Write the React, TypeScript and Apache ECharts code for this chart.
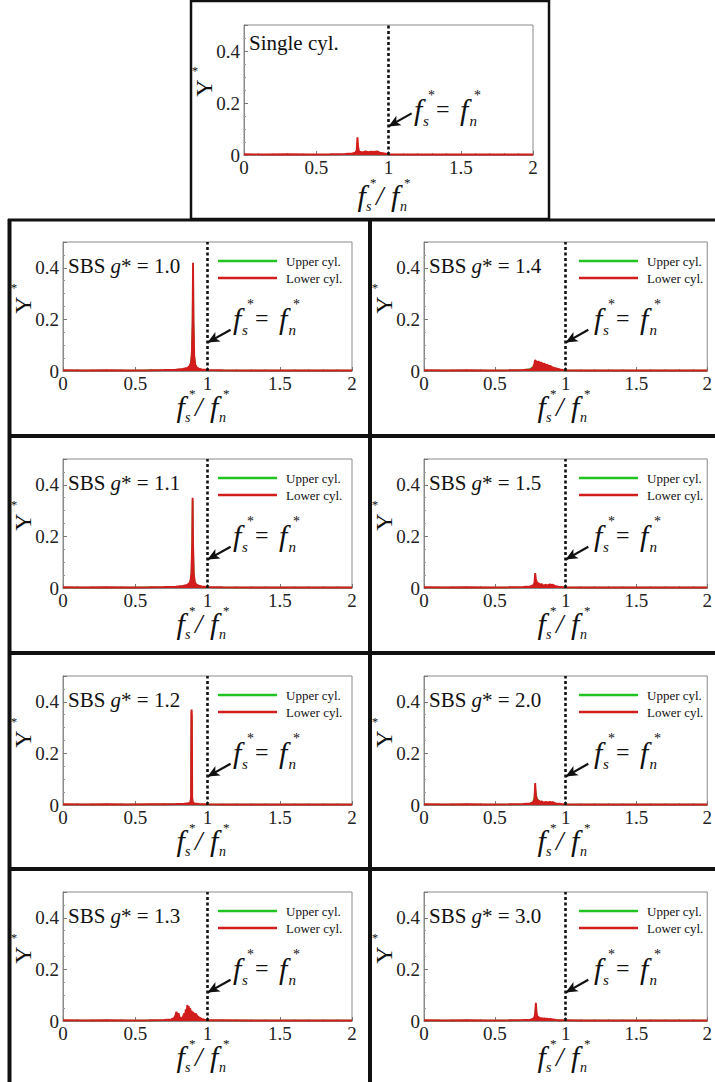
import React, { useEffect, useRef } from "react";
import * as echarts from "echarts";

// ---------------- data ----------------
const singleFreq = [0, 0.15, 0.3, 0.45, 0.6, 0.7, 0.75, 0.77, 0.78, 0.785, 0.79, 0.795, 0.8, 0.82, 0.84, 0.86, 0.88, 0.9, 0.92, 0.94, 0.96, 0.98, 1.0, 1.1, 1.3, 1.5, 1.7, 2.0];
const singleAmp = [0.003, 0.002, 0.003, 0.002, 0.003, 0.004, 0.006, 0.009, 0.018, 0.068, 0.03, 0.016, 0.013, 0.01, 0.014, 0.011, 0.013, 0.012, 0.014, 0.009, 0.007, 0.005, 0.003, 0.002, 0.002, 0.002, 0.002, 0.002];

const g10Freq = [0, 0.15, 0.3, 0.45, 0.6, 0.7, 0.78, 0.83, 0.86, 0.875, 0.885, 0.892, 0.897, 0.9, 0.903, 0.908, 0.915, 0.925, 0.94, 0.96, 1.0, 1.1, 1.3, 1.5, 1.7, 2.0];
const g10Lower = [0.003, 0.002, 0.003, 0.002, 0.003, 0.004, 0.005, 0.008, 0.012, 0.018, 0.03, 0.07, 0.2, 0.42, 0.2, 0.06, 0.025, 0.014, 0.009, 0.006, 0.004, 0.003, 0.002, 0.002, 0.002, 0.002];
const g10Upper = [0.002, 0.002, 0.002, 0.002, 0.003, 0.003, 0.004, 0.007, 0.011, 0.016, 0.028, 0.065, 0.19, 0.41, 0.19, 0.055, 0.022, 0.012, 0.008, 0.005, 0.003, 0.002, 0.002, 0.002, 0.002, 0.002];

const g11Freq = [0, 0.15, 0.3, 0.45, 0.6, 0.7, 0.78, 0.83, 0.86, 0.873, 0.882, 0.889, 0.894, 0.897, 0.9, 0.905, 0.912, 0.922, 0.94, 0.96, 1.0, 1.1, 1.3, 1.5, 1.7, 2.0];
const g11Lower = [0.003, 0.002, 0.003, 0.002, 0.003, 0.004, 0.005, 0.008, 0.012, 0.017, 0.028, 0.06, 0.17, 0.35, 0.17, 0.055, 0.024, 0.013, 0.009, 0.006, 0.004, 0.003, 0.002, 0.002, 0.002, 0.002];
const g11Upper = [0.002, 0.002, 0.002, 0.002, 0.003, 0.003, 0.004, 0.007, 0.011, 0.016, 0.026, 0.056, 0.16, 0.34, 0.16, 0.05, 0.022, 0.012, 0.008, 0.005, 0.003, 0.002, 0.002, 0.002, 0.002, 0.002];

const g12Freq = [0, 0.15, 0.3, 0.45, 0.6, 0.7, 0.78, 0.84, 0.87, 0.882, 0.886, 0.888, 0.89, 0.892, 0.894, 0.898, 0.91, 0.94, 1.0, 1.1, 1.3, 1.5, 1.7, 2.0];
const g12Lower = [0.003, 0.002, 0.003, 0.002, 0.003, 0.003, 0.004, 0.005, 0.007, 0.01, 0.03, 0.36, 0.37, 0.35, 0.03, 0.01, 0.006, 0.004, 0.003, 0.002, 0.002, 0.002, 0.002, 0.002];
const g12Upper = [0.002, 0.002, 0.002, 0.002, 0.002, 0.003, 0.003, 0.004, 0.006, 0.009, 0.025, 0.2, 0.34, 0.2, 0.025, 0.009, 0.005, 0.003, 0.002, 0.002, 0.002, 0.002, 0.002, 0.002];

const g13Freq = [0, 0.15, 0.3, 0.45, 0.6, 0.7, 0.75, 0.77, 0.78, 0.785, 0.79, 0.795, 0.8, 0.805, 0.81, 0.82, 0.83, 0.84, 0.845, 0.85, 0.855, 0.86, 0.865, 0.87, 0.875, 0.88, 0.885, 0.89, 0.895, 0.9, 0.91, 0.92, 0.93, 0.94, 0.96, 0.98, 1.0, 1.1, 1.3, 1.5, 1.7, 2.0];
const g13Lower = [0.003, 0.002, 0.003, 0.002, 0.003, 0.004, 0.006, 0.012, 0.025, 0.036, 0.028, 0.02, 0.03, 0.018, 0.012, 0.01, 0.016, 0.03, 0.022, 0.045, 0.03, 0.062, 0.045, 0.058, 0.035, 0.05, 0.03, 0.04, 0.028, 0.034, 0.025, 0.028, 0.018, 0.014, 0.008, 0.005, 0.003, 0.003, 0.002, 0.002, 0.002, 0.002];
const g13Upper = [0.002, 0.002, 0.002, 0.002, 0.002, 0.003, 0.004, 0.008, 0.015, 0.02, 0.016, 0.012, 0.018, 0.011, 0.008, 0.007, 0.01, 0.018, 0.013, 0.026, 0.018, 0.035, 0.026, 0.033, 0.02, 0.028, 0.018, 0.023, 0.016, 0.02, 0.015, 0.016, 0.011, 0.008, 0.005, 0.003, 0.002, 0.002, 0.002, 0.002, 0.002, 0.002];

const g14Freq = [0, 0.15, 0.3, 0.45, 0.6, 0.7, 0.75, 0.77, 0.78, 0.785, 0.79, 0.8, 0.81, 0.82, 0.83, 0.84, 0.85, 0.86, 0.87, 0.88, 0.89, 0.9, 0.92, 0.94, 0.96, 0.98, 1.0, 1.1, 1.3, 1.5, 1.7, 2.0];
const g14Lower = [0.003, 0.002, 0.003, 0.002, 0.003, 0.004, 0.006, 0.012, 0.03, 0.043, 0.038, 0.035, 0.036, 0.031, 0.032, 0.027, 0.028, 0.023, 0.024, 0.019, 0.02, 0.016, 0.012, 0.009, 0.006, 0.004, 0.003, 0.002, 0.002, 0.002, 0.002, 0.002];
const g14Upper = [0.002, 0.002, 0.002, 0.002, 0.003, 0.004, 0.008, 0.016, 0.022, 0.025, 0.022, 0.02, 0.019, 0.018, 0.016, 0.015, 0.014, 0.012, 0.011, 0.01, 0.009, 0.008, 0.006, 0.005, 0.004, 0.003, 0.002, 0.002, 0.002, 0.002, 0.002, 0.002];

const gHighFreq = [0, 0.15, 0.3, 0.45, 0.6, 0.7, 0.75, 0.77, 0.78, 0.785, 0.79, 0.795, 0.8, 0.81, 0.82, 0.83, 0.84, 0.85, 0.86, 0.87, 0.88, 0.89, 0.9, 0.91, 0.92, 0.93, 0.95, 0.97, 1.0, 1.1, 1.3, 1.5, 1.7, 2.0];
const g15Lower = [0.003, 0.002, 0.003, 0.002, 0.003, 0.004, 0.006, 0.01, 0.02, 0.058, 0.035, 0.025, 0.02, 0.018, 0.013, 0.015, 0.011, 0.01, 0.013, 0.009, 0.012, 0.014, 0.011, 0.013, 0.009, 0.007, 0.005, 0.004, 0.003, 0.002, 0.002, 0.002, 0.002, 0.002];
const g15Upper = [0.002, 0.002, 0.002, 0.002, 0.002, 0.003, 0.005, 0.008, 0.016, 0.03, 0.022, 0.016, 0.013, 0.011, 0.009, 0.01, 0.008, 0.007, 0.009, 0.006, 0.008, 0.009, 0.008, 0.009, 0.006, 0.005, 0.004, 0.003, 0.002, 0.002, 0.002, 0.002, 0.002, 0.002];
const g20Lower = [0.003, 0.002, 0.003, 0.002, 0.003, 0.004, 0.006, 0.01, 0.022, 0.085, 0.04, 0.026, 0.02, 0.016, 0.012, 0.014, 0.011, 0.01, 0.012, 0.009, 0.011, 0.012, 0.01, 0.011, 0.008, 0.006, 0.005, 0.004, 0.003, 0.002, 0.002, 0.002, 0.002, 0.002];
const g20Upper = [0.002, 0.002, 0.002, 0.002, 0.002, 0.003, 0.006, 0.012, 0.03, 0.06, 0.045, 0.03, 0.022, 0.017, 0.012, 0.012, 0.01, 0.009, 0.01, 0.008, 0.009, 0.01, 0.008, 0.009, 0.007, 0.005, 0.004, 0.003, 0.002, 0.002, 0.002, 0.002, 0.002, 0.002];
const g30Lower = [0.003, 0.002, 0.003, 0.002, 0.003, 0.004, 0.005, 0.008, 0.015, 0.03, 0.07, 0.03, 0.018, 0.014, 0.01, 0.011, 0.009, 0.01, 0.008, 0.009, 0.007, 0.008, 0.007, 0.006, 0.005, 0.004, 0.003, 0.003, 0.003, 0.002, 0.002, 0.002, 0.002, 0.002];
const g30Upper = [0.002, 0.002, 0.002, 0.002, 0.002, 0.003, 0.004, 0.007, 0.012, 0.025, 0.055, 0.025, 0.015, 0.011, 0.008, 0.009, 0.007, 0.008, 0.006, 0.007, 0.006, 0.006, 0.005, 0.005, 0.004, 0.003, 0.003, 0.002, 0.002, 0.002, 0.002, 0.002, 0.002, 0.002];

const gapLabels = ["1.0", "1.1", "1.2", "1.3", "1.4", "1.5", "2.0", "3.0"];
const legendNames = ["Upper cyl.", "Lower cyl."];
const singleTitle = "Single cyl.";

const X_MIN = 0, X_MAX = 2, X_STEP = 0.5;
const Y_MIN = 0, Y_MAX = 0.5, Y_STEP = 0.2;
const RESONANCE = 1; // f_s* = f_n*
const ARROW_TAIL = [1.16, 0.16];
const ARROW_HEAD = [1.0, 0.11];

// ---------------- styling ----------------
const SERIF = "Liberation Serif";
const RED = "#d21d1d";
const GREEN = "#22c422";
const INK = "#111";
const FRAME = "#8a8a8a";

const zip = (f: number[], a: number[]) => f.map((x, i) => [x, a[i]]);

type Panel = {
  gap: string | null;
  freq: number[];
  lower: number[];
  upper: number[] | null;
  L: number;
  plotTop: number;
  plotH: number;
  T: number;
  annY: number;
  xlY: number;
  yNameY: number;
};

function buildPanels(): Panel[] {
  const rowsT = [219, 436, 653, 869];
  const colsL = [63, 424];
  const sets: [number[], number[], number[]][] = [
    [g10Freq, g10Lower, g10Upper],
    [g11Freq, g11Lower, g11Upper],
    [g12Freq, g12Lower, g12Upper],
    [g13Freq, g13Lower, g13Upper],
    [g14Freq, g14Lower, g14Upper],
    [gHighFreq, g15Lower, g15Upper],
    [gHighFreq, g20Lower, g20Upper],
    [gHighFreq, g30Lower, g30Upper],
  ];
  const panels: Panel[] = [
    {
      gap: null, freq: singleFreq, lower: singleAmp, upper: null,
      L: 244, plotTop: 25, plotH: 130, T: 3, annY: 109, xlY: 195, yNameY: 88,
    },
  ];
  sets.forEach((s, i) => {
    const col = Math.floor(i / 4);
    const row = i % 4;
    const T = rowsT[row];
    panels.push({
      gap: gapLabels[i], freq: s[0], lower: s[1], upper: s[2],
      L: colsL[col], plotTop: T + 23, plotH: 129, T,
      annY: T + 99, xlY: T + 187, yNameY: T + 86,
    });
  });
  return panels;
}

function mathGroup(x: number, y: number, items: [string, number, number, number, boolean][]) {
  return {
    type: "group",
    x,
    y,
    children: items.map(([t, dx, dy, size, italic]) => ({
      type: "text",
      x: dx,
      y: dy,
      style: {
        text: t,
        fontFamily: SERIF,
        fontSize: size,
        fontStyle: italic ? "italic" : "normal",
        fill: INK,
        align: "left",
        verticalAlign: "middle",
      },
    })),
  };
}

function buildOption() {
  const panels = buildPanels();
  const grid: any[] = [];
  const xAxis: any[] = [];
  const yAxis: any[] = [];
  const series: any[] = [];
  const elements: any[] = [];
  const W = 289;

  panels.forEach((p, i) => {
    grid.push({
      left: p.L, top: p.plotTop, width: W, height: p.plotH,
      show: true, borderColor: FRAME, borderWidth: 1, backgroundColor: "transparent",
    });
    const labelStyle = { fontFamily: SERIF, fontSize: 19, color: "#222" };
    xAxis.push({
      gridIndex: i, type: "value", min: X_MIN, max: X_MAX, interval: X_STEP,
      axisLine: { show: true, onZero: false, lineStyle: { color: FRAME } },
      axisTick: { show: true, inside: true, length: 4, lineStyle: { color: "#777" } },
      minorTick: { show: true, splitNumber: 5, length: 2, lineStyle: { color: "#999" } },
      splitLine: { show: false },
      axisLabel: { ...labelStyle, margin: 3 },
    });
    yAxis.push({
      gridIndex: i, type: "value", min: Y_MIN, max: Y_MAX, interval: Y_STEP,
      axisLine: { show: true, lineStyle: { color: FRAME } },
      axisTick: { show: true, inside: true, length: 4, lineStyle: { color: "#777" } },
      minorTick: { show: true, splitNumber: 4, length: 2, lineStyle: { color: "#999" } },
      splitLine: { show: false },
      axisLabel: { ...labelStyle, margin: 4, showMaxLabel: false },
    });

    series.push({
      type: "line", name: "guide", xAxisIndex: i, yAxisIndex: i, data: [], silent: true, z: 5,
      markLine: {
        silent: true, symbol: "none", animation: false, label: { show: false },
        emphasis: { disabled: true },
        lineStyle: { color: INK, type: [3, 2.5], width: 2.6 },
        data: [{ xAxis: RESONANCE }],
      },
    });
    if (p.upper) {
      series.push({
        type: "line", name: legendNames[0], xAxisIndex: i, yAxisIndex: i,
        data: zip(p.freq, p.upper), showSymbol: false, z: 2,
        lineStyle: { color: GREEN, width: 1.6 }, itemStyle: { color: GREEN },
      });
    }
    series.push({
      type: "line", name: p.upper ? legendNames[1] : singleTitle, xAxisIndex: i, yAxisIndex: i,
      data: zip(p.freq, p.lower), showSymbol: false, z: 3,
      lineStyle: { color: RED, width: 1.9 }, itemStyle: { color: RED },
      areaStyle: { color: RED, opacity: 1 },
      markLine: {
        silent: true, symbol: ["none", "arrow"], symbolSize: [8, 12], animation: false,
        label: { show: false }, emphasis: { disabled: true },
        lineStyle: { color: INK, type: "solid", width: 2.2 },
        data: [[{ coord: ARROW_TAIL }, { coord: ARROW_HEAD }]],
      },
    });

    // title
    if (p.gap) {
      elements.push({
        type: "text", x: p.L + 5, y: p.T + 47,
        style: {
          text: `{a|SBS }{b|g}{a|* = ${p.gap}}`,
          rich: {
            a: { fontFamily: SERIF, fontSize: 21, fill: INK },
            b: { fontFamily: SERIF, fontSize: 21, fontStyle: "italic", fill: INK },
          },
          verticalAlign: "middle",
        },
      });
      // legend
      const colors = [GREEN, RED];
      [0, 1].forEach((k) => {
        const ly = p.T + 42 + k * 17;
        elements.push({
          type: "line",
          shape: { x1: p.L + 155, y1: ly, x2: p.L + 214, y2: ly },
          style: { stroke: colors[k], lineWidth: 2.5 },
        });
        elements.push({
          type: "text", x: p.L + 223, y: ly,
          style: { text: legendNames[k], fontFamily: SERIF, fontSize: 13, fill: INK, verticalAlign: "middle" },
        });
      });
    } else {
      elements.push({
        type: "text", x: p.L + 5, y: p.plotTop + 18,
        style: { text: singleTitle, fontFamily: SERIF, fontSize: 21, fill: INK, verticalAlign: "middle" },
      });
    }

    // y axis name  Y*
    elements.push({
      type: "text", x: p.L - 40, y: p.yNameY, rotation: Math.PI / 2,
      style: { text: "Y", fontFamily: SERIF, fontSize: 24, fill: INK, align: "center", verticalAlign: "middle" },
    });
    elements.push({
      type: "text", x: p.L - 49, y: p.yNameY - 18,
      style: { text: "*", fontFamily: SERIF, fontSize: 13, fill: INK, align: "center", verticalAlign: "middle" },
    });

    // annotation f_s* = f_n*
    elements.push(
      mathGroup(p.L + 167, p.annY, [
        ["f", 3, 0, 30, true],
        ["*", 17, -14, 14, false],
        ["s", 12, 12, 15, true],
        ["=", 25, 0, 24, false],
        ["f", 49, 0, 30, true],
        ["*", 63, -14, 14, false],
        ["n", 58.5, 12, 15, true],
      ])
    );
    // x label f_s*/f_n*
    elements.push(
      mathGroup(p.L + 111, p.xlY, [
        ["f", 2.5, 0, 30, true],
        ["*", 15, -13, 13, false],
        ["s", 11, 11, 14, true],
        ["/", 21, 1, 27, true],
        ["f", 36, 0, 30, true],
        ["*", 49, -13, 13, false],
        ["n", 45, 11, 14, true],
      ])
    );
  });

  // panel frames
  elements.push({
    type: "rect", shape: { x: 191, y: 1, width: 358, height: 218 },
    style: { fill: "none", stroke: INK, lineWidth: 2.5 },
  });
  const hLines = [220, 436, 653, 869];
  hLines.forEach((y) =>
    elements.push({ type: "line", shape: { x1: 8, y1: y, x2: 715, y2: y }, style: { stroke: INK, lineWidth: y === 220 ? 3 : 4 } })
  );
  elements.push({ type: "line", shape: { x1: 9.5, y1: 219, x2: 9.5, y2: 1082 }, style: { stroke: INK, lineWidth: 4 } });
  elements.push({ type: "line", shape: { x1: 370, y1: 219, x2: 370, y2: 1082 }, style: { stroke: INK, lineWidth: 4 } });

  return {
    animation: false,
    backgroundColor: "#fff",
    grid,
    xAxis,
    yAxis,
    series,
    graphic: { elements },
  };
}

export default function App() {
  const ref = useRef<HTMLDivElement>(null);
  useEffect(() => {
    document.body.style.margin = "0";
    const chart = echarts.init(ref.current!, null, { renderer: "svg" });
    chart.setOption(buildOption() as any);
    return () => chart.dispose();
  }, []);
  return <div ref={ref} style={{ width: 715, height: 1082 }} />;
}
